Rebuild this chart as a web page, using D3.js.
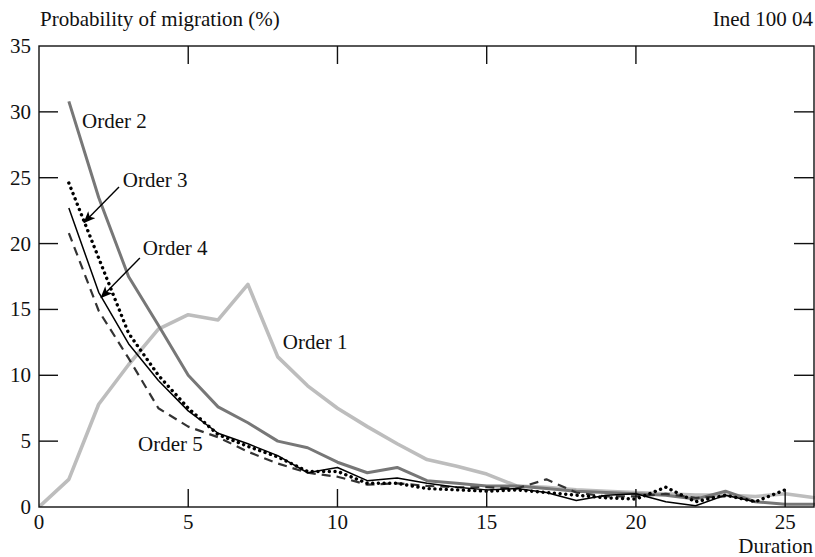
<!DOCTYPE html>
<html>
<head>
<meta charset="utf-8">
<script src="https://cdn.jsdelivr.net/npm/d3@7/dist/d3.min.js"></script>
<style>
  html, body { margin: 0; padding: 0; background: #fff; }
  #chart text { font-family: "Liberation Serif", "Times New Roman", Times, "Nimbus Roman", "Nimbus Roman No9 L", FreeSerif, "Noto Serif", "DejaVu Serif", Tinos, serif; }
</style>
</head>
<body>
<svg id="chart" width="815" height="557"></svg>
<script>
// Probability of migration (%) by duration, for each migration order
const durations1 = d3.range(0, 27);
const order1 = [0, 2.1, 7.8, 10.8, 13.5, 14.6, 14.2, 16.9, 11.4, 9.2, 7.5, 6.1, 4.8, 3.6, 3.1, 2.5, 1.6, 1.5, 1.3, 1.2, 1.1, 1.0, 0.9, 0.9, 0.8, 1.0, 0.7];

const durations2 = d3.range(1, 27);
const order2 = [30.8, 23.5, 17.5, 13.8, 10.0, 7.6, 6.4, 5.0, 4.5, 3.4, 2.6, 3.0, 2.0, 1.8, 1.6, 1.6, 1.4, 1.2, 1.1, 1.0, 0.9, 0.6, 1.2, 0.4, 0.2, 0.2];

const durations3 = d3.range(1, 26);
const order3 = [24.6, 18.9, 13.2, 10.0, 7.5, 5.5, 4.6, 3.8, 2.7, 2.7, 1.8, 1.8, 1.4, 1.3, 1.2, 1.3, 1.1, 0.9, 0.7, 0.6, 1.5, 0.4, 0.9, 0.4, 1.3];

const durations4 = d3.range(1, 25);
const order4 = [22.7, 16.3, 12.4, 9.6, 7.3, 5.6, 4.8, 3.9, 2.6, 3.0, 2.0, 2.2, 1.8, 1.5, 1.3, 1.4, 1.1, 0.5, 0.9, 1.0, 0.4, 0.1, 0.9, 0.4];

const durations5 = d3.range(1, 24);
const order5 = [20.8, 14.9, 11.3, 7.5, 6.1, 5.3, 4.2, 3.3, 2.6, 2.3, 1.7, 1.8, 1.6, 1.5, 1.5, 1.4, 2.1, 1.1, 0.8, 0.8, 1.0, 0.7, 0.8];

const xTicks = [0, 5, 10, 15, 20, 25];
const yTicks = [0, 5, 10, 15, 20, 25, 30, 35];

const svg = d3.select("#chart").attr("font-size", 21);
const plotLeft = 39, plotRight = 815, plotTop = 46, plotBottom = 507;

const x = d3.scaleLinear().domain([0, 26]).range([plotLeft, plotRight]);
const y = d3.scaleLinear().domain([0, 35]).range([plotBottom, plotTop]);

const defs = svg.append("defs");
// clip region for the curves
defs.append("clipPath").attr("id", "plot")
  .append("rect").attr("x", plotLeft).attr("y", plotTop)
  .attr("width", plotRight - plotLeft).attr("height", plotBottom - plotTop);

defs.append("marker").attr("id", "arrow")
  .attr("viewBox", "0 0 12 10").attr("refX", 11).attr("refY", 5)
  .attr("markerWidth", 13).attr("markerHeight", 10)
  .attr("markerUnits", "userSpaceOnUse").attr("orient", "auto")
  .append("path").attr("d", "M0,0 L12,5 L0,10 L3,5 Z").attr("fill", "#000");

const line = d3.line().x(d => x(d[0])).y(d => y(d[1]));
const pairs = (xs, ys) => xs.map((d, i) => [d, ys[i]]);

const series = [
  { xs: durations1, ys: order1, stroke: "#bdbdbd", width: 3.6, dash: null, cap: "butt" },
  { xs: durations2, ys: order2, stroke: "#777", width: 3, dash: null, cap: "butt" },
  { xs: durations5, ys: order5, stroke: "#333", width: 2.2, dash: "9 6", cap: "butt" },
  { xs: durations4, ys: order4, stroke: "#000", width: 1.5, dash: null, cap: "butt" },
  { xs: durations3, ys: order3, stroke: "#000", width: 3.4, dash: "0.1 5.6", cap: "round" }
];

const g = svg.append("g").attr("clip-path", "url(#plot)");
series.forEach(s => {
  g.append("path")
    .datum(pairs(s.xs, s.ys))
    .attr("d", line)
    .attr("fill", "none")
    .attr("stroke", s.stroke)
    .attr("stroke-width", s.width)
    .attr("stroke-linejoin", "round")
    .attr("stroke-linecap", s.cap)
    .attr("stroke-dasharray", s.dash);
});

// frame
svg.append("rect")
  .attr("x", plotLeft).attr("y", plotTop)
  .attr("width", plotRight - plotLeft - 1).attr("height", plotBottom - plotTop)
  .attr("fill", "none").attr("stroke", "#111").attr("stroke-width", 1.4);

// inward ticks on all four sides
const inner = yTicks.filter(v => v > 0 && v < 35);
const ticks = svg.append("g").attr("stroke", "#111").attr("stroke-width", 1.4);
inner.forEach(v => {
  ticks.append("line").attr("x1", plotLeft).attr("x2", plotLeft + 19).attr("y1", y(v)).attr("y2", y(v));
  ticks.append("line").attr("x1", plotRight - 1).attr("x2", plotRight - 21).attr("y1", y(v)).attr("y2", y(v));
});
xTicks.filter(v => v > 0).forEach(v => {
  ticks.append("line").attr("x1", x(v)).attr("x2", x(v)).attr("y1", plotBottom).attr("y2", plotBottom - 18);
  if (v < 25) ticks.append("line").attr("x1", x(v)).attr("x2", x(v)).attr("y1", plotTop).attr("y2", plotTop + 18);
});

const txt = "#111";
// tick labels
svg.append("g").selectAll("text").data(yTicks).join("text")
  .attr("x", 31).attr("y", d => y(d) + 7).attr("text-anchor", "end").attr("fill", txt).text(d => d);
svg.append("g").selectAll("text").data(xTicks).join("text")
  .attr("x", d => x(d)).attr("y", 529).attr("text-anchor", "middle").attr("fill", txt).text(d => d);

// titles
svg.append("text").attr("x", 40).attr("y", 26).attr("fill", txt).text("Probability of migration (%)");
svg.append("text").attr("x", 813).attr("y", 26).attr("text-anchor", "end").attr("fill", txt).text("Ined 100 04");
svg.append("text").attr("x", 813).attr("y", 553).attr("text-anchor", "end").attr("fill", txt).text("Duration");

// series labels
const labels = [
  { text: "Order 2", at: [1.44, 28.8] },
  { text: "Order 3", at: [2.81, 24.3] },
  { text: "Order 4", at: [3.48, 19.1] },
  { text: "Order 1", at: [8.17, 12.0] },
  { text: "Order 5", at: [3.32, 4.25] }
];
svg.append("g").selectAll("text").data(labels).join("text")
  .attr("x", d => x(d.at[0])).attr("y", d => y(d.at[1])).attr("fill", txt).text(d => d.text);

// pointer arrows for the crowded curves
const arrows = [
  { from: [2.68, 24.3], to: [1.51, 21.6] },
  { from: [3.38, 18.9], to: [2.08, 15.9] }
];
svg.append("g").selectAll("line").data(arrows).join("line")
  .attr("x1", d => x(d.from[0])).attr("y1", d => y(d.from[1]))
  .attr("x2", d => x(d.to[0])).attr("y2", d => y(d.to[1]))
  .attr("stroke", "#000").attr("stroke-width", 1.4)
  .attr("marker-end", "url(#arrow)");
</script>
</body>
</html>
